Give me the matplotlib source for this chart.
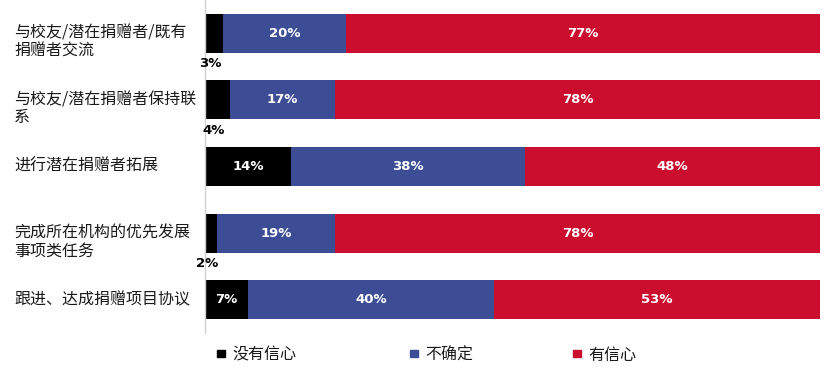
import numpy as np
import matplotlib.pyplot as plt
from matplotlib.transforms import blended_transform_factory, offset_copy
from matplotlib.patches import Rectangle

plt.rcParams['font.family'] = ['Noto Sans CJK SC', 'DejaVu Sans']

categories = ["与校友/潜在捐赠者/既有\n捐赠者交流",
              "与校友/潜在捐赠者保持联\n系",
              "进行潜在捐赠者拓展",
              "完成所在机构的优先发展\n事项类任务",
              "跟进、达成捐赠项目协议"]
no_conf = [3, 4, 14, 2, 7]
unsure = [20, 17, 38, 19, 40]
conf = [77, 78, 48, 78, 53]
series_names = ["没有信心", "不确定", "有信心"]
colors = ["#000000", "#3d4d95", "#cb0e2d"]

W, H = 832, 375
fig = plt.figure(figsize=(W / 100, H / 100), dpi=100)
ax = fig.add_axes([205 / W, 42 / H, 615 / W, 333 / H])

vals = np.array([no_conf, unsure, conf], dtype=float)
totals = vals.sum(axis=0)
widths = vals / totals * 100  # 100% stacked
y = np.arange(len(categories))
left = np.zeros(len(categories))

for i, name in enumerate(series_names):
    ax.barh(y, widths[i], left=left, height=0.585, color=colors[i], label=name)
    for j in range(len(categories)):
        cx = left[j] + widths[i][j] / 2
        txt = "{0}%".format(int(vals[i][j]))
        if vals[i][j] >= 5:
            ax.text(cx, y[j], txt, ha='center', va='center', color='white',
                    fontsize=9.5, fontweight='bold', family='DejaVu Sans')
        else:
            # too small to fit, put it under the bar
            ax.text(cx - 0.6, y[j] + 0.46, txt, ha='center', va='center', color='black',
                    fontsize=9.5, fontweight='bold', family='DejaVu Sans')
    left += widths[i]

ax.set_xlim(0, 100)
ax.set_ylim(4.5, -0.5)
ax.set_xticks([])
ax.set_yticks([])
for s in ['top', 'right', 'bottom']:
    ax.spines[s].set_visible(False)
ax.spines['left'].set_color('#d0d0d0')
ax.spines['left'].set_linewidth(1)

# category labels, first line centred on the bar
tr = blended_transform_factory(fig.transFigure, ax.transData)
for j, cat in enumerate(categories):
    for k, line in enumerate(cat.split("\n")):
        t = offset_copy(tr, fig=fig, x=0, y=-18 * k, units='dots')
        ax.text(14 / W, y[j], line, transform=t, ha='left', va='center',
                fontsize=11.5, fontweight='medium', color='#1a1a1a', clip_on=False)

# legend
leg_x = [217, 410, 573]
for i, name in enumerate(series_names):
    fig.patches.append(Rectangle((leg_x[i] / W, (H - 357) / H), 8 / W, 7 / H,
                                 transform=fig.transFigure, color=colors[i]))
    fig.text((leg_x[i] + 15) / W, (H - 355) / H, name, ha='left', va='center',
             fontsize=11.5, fontweight='medium', color='#1a1a1a')

fig.savefig("out.png", dpi=100)
